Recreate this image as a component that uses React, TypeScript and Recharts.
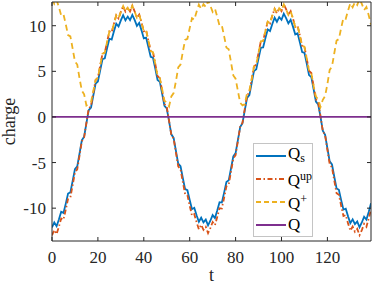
import { LineChart, Line, XAxis, YAxis, Legend } from "recharts";

// sampled charge signals, one value per unit of t (t = 0..139)
const qsValues = [
  -12.11, -11.57, -11.98, -11.24, -10.4, -10.52, -9.5, -8.4, -8.27, -7.02,
  -5.72, -5.41, -4.01, -2.57, -2.16, -0.68, 0.74, 1.03, 2.35, 3.66,
  3.88, 5.12, 6.33, 6.43, 7.53, 8.57, 8.49, 9.39, 10.22, 9.91,
  10.58, 11.16, 10.6, 11.0, 10.61, 11.19, 10.63, 9.98, 10.3, 9.49,
  8.61, 8.7, 7.67, 6.59, 6.49, 5.3, 4.06, 3.84, 2.54, 1.22,
  0.94, -0.45, -1.91, -2.3, -3.72, -5.11, -5.4, -6.69, -7.92, -8.03,
  -9.11, -10.11, -9.96, -10.78, -11.49, -11.05, -11.55, -11.25, -11.89, -11.38,
  -10.76, -11.08, -10.26, -9.35, -9.39, -8.3, -7.13, -6.95, -5.65, -4.31,
  -3.97, -2.54, -1.1, -0.68, 0.72, 2.09, 2.39, 3.72, 5.02, 5.22,
  6.43, 7.59, 7.63, 8.64, 9.59, 9.41, 10.19, 10.88, 10.43, 10.94,
  10.65, 11.32, 10.84, 10.26, 10.65, 9.9, 9.05, 9.18, 8.18, 7.11,
  7.03, 5.84, 4.59, 4.36, 3.04, 1.69, 1.37, 0.0, -1.51, -1.95,
  -3.43, -4.87, -5.21, -6.56, -7.84, -7.99, -9.12, -10.16, -10.06, -10.9,
  -11.64, -11.22, -11.74, -11.45, -12.09, -11.57, -10.94, -11.25, -10.41, -9.46,
];

const qUpValues = [
  -12.98, -12.4, -12.84, -12.04, -11.13, -11.26, -10.16, -8.97, -8.83, -7.48,
  -6.08, -5.74, -4.23, -2.68, -2.23, -0.63, 0.9, 1.21, 2.64, 4.05,
  4.29, 5.63, 6.94, 7.04, 8.23, 9.36, 9.27, 10.24, 11.14, 10.8,
  11.53, 12.15, 11.55, 11.98, 11.56, 12.19, 11.58, 10.88, 11.22, 10.35,
  9.4, 9.5, 8.38, 7.22, 7.11, 5.82, 4.48, 4.25, 2.84, 1.42,
  1.12, -0.39, -1.96, -2.38, -3.92, -5.42, -5.73, -7.13, -8.45, -8.57,
  -9.74, -10.82, -10.66, -11.54, -12.31, -11.83, -12.37, -12.05, -12.74, -12.19,
  -11.52, -11.87, -10.98, -10.0, -10.04, -8.86, -7.6, -7.41, -6.0, -4.55,
  -4.19, -2.64, -1.09, -0.63, 0.88, 2.36, 2.68, 4.12, 5.52, 5.74,
  7.04, 8.3, 8.34, 9.43, 10.46, 10.26, 11.11, 11.85, 11.36, 11.92,
  11.6, 12.33, 11.81, 11.18, 11.6, 10.79, 9.87, 10.01, 8.93, 7.78,
  7.69, 6.41, 5.06, 4.81, 3.38, 1.93, 1.58, 0.1, -1.53, -2.01,
  -3.6, -5.16, -5.53, -6.98, -8.37, -8.53, -9.75, -10.87, -10.76, -11.67,
  -12.47, -12.02, -12.58, -12.27, -12.96, -12.4, -11.72, -12.05, -11.14, -10.12,
];

const qPlusValues = [
  12.98, 12.4, 12.84, 12.04, 11.13, 11.26, 10.16, 8.97, 8.83, 7.48,
  6.08, 5.74, 4.23, 2.89, 2.48, 1.26, 1.42, 1.63, 2.86, 4.05,
  4.29, 5.63, 6.94, 7.04, 8.23, 9.36, 9.27, 10.24, 11.14, 10.8,
  11.53, 12.15, 11.55, 11.98, 11.56, 12.19, 11.58, 10.88, 11.22, 10.35,
  9.4, 9.5, 8.38, 7.22, 7.11, 5.82, 4.48, 4.25, 3.04, 1.79,
  1.57, 1.16, 2.25, 2.62, 3.92, 5.42, 5.73, 7.13, 8.45, 8.57,
  9.74, 10.82, 10.66, 11.54, 12.31, 11.83, 12.37, 12.05, 12.74, 12.19,
  11.52, 11.87, 10.98, 10.0, 10.04, 8.86, 7.6, 7.41, 6.0, 4.55,
  4.19, 2.86, 1.55, 1.26, 1.41, 2.6, 2.9, 4.12, 5.52, 5.74,
  7.04, 8.3, 8.34, 9.43, 10.46, 10.26, 11.11, 11.85, 11.36, 11.92,
  11.6, 12.33, 11.81, 11.18, 11.6, 10.79, 9.87, 10.01, 8.93, 7.78,
  7.69, 6.41, 5.06, 4.81, 3.38, 2.22, 1.92, 1.1, 1.88, 2.29,
  3.6, 5.16, 5.53, 6.98, 8.37, 8.53, 9.75, 10.87, 10.76, 11.67,
  12.47, 12.02, 12.58, 12.27, 12.96, 12.4, 11.72, 12.05, 11.14, 10.12,
];

// Q stays at zero over the whole run
const qT = [0, 139];
const qValues = [0, 0];

const xTicks = [0, 20, 40, 60, 80, 100, 120];
const yTicks = [-10, -5, 0, 5, 10];

const data = qsValues.map((v, i) => ({
  t: i,
  qs: v,
  qup: qUpValues[i],
  qplus: qPlusValues[i],
}));
const qData = qT.map((t, i) => ({ t, q: qValues[i] }));

const AXIS = "#262626";
const FONT = '"Liberation Serif", "Times New Roman", serif';
const tickStyle = { fontSize: 17, fill: AXIS, fontFamily: FONT };

const legendItems = [
  { color: "#0072BD", dash: undefined, main: "Q", sub: "s", sup: "" },
  { color: "#D95319", dash: "5 2.5 1.5 2.5", main: "Q", sub: "", sup: "up" },
  { color: "#EDB120", dash: "5 3", main: "Q", sub: "", sup: "+" },
  { color: "#7E2F8E", dash: undefined, main: "Q", sub: "", sup: "" },
];

const renderLegend = () => (
  <div
    style={{
      border: "1px solid #c4c4c4",
      background: "#fff",
      width: 58,
      fontFamily: FONT,
      fontSize: 17,
      color: "#000",
    }}
  >
    {legendItems.map((it, i) => (
      <div
        key={i}
        style={{ height: 23, display: "flex", alignItems: "center" }}
      >
        <svg width={32} height={6} style={{ marginLeft: 2 }}>
          <line
            x1={0}
            y1={3}
            x2={30}
            y2={3}
            stroke={it.color}
            strokeWidth={2}
            strokeDasharray={it.dash}
          />
        </svg>
        <span style={{ lineHeight: "17px" }}>
          {it.main}
          {it.sub && (
            <sub style={{ fontSize: 12, verticalAlign: "-3px" }}>{it.sub}</sub>
          )}
          {it.sup && (
            <sup style={{ fontSize: 12, verticalAlign: "6px" }}>{it.sup}</sup>
          )}
        </span>
      </div>
    ))}
  </div>
);

export default function App() {
  return (
    <div style={{ position: "absolute", left: 0, top: 0 }}>
      <LineChart
        width={374}
        height={285}
        data={data}
        margin={{ top: 0, right: 0, bottom: 0, left: 0 }}
        style={{ fontFamily: FONT, background: "#fff" }}
      >
        <XAxis
          dataKey="t"
          type="number"
          domain={[0, 139]}
          ticks={xTicks}
          allowDataOverflow
          height={44}
          stroke={AXIS}
          tickSize={-4}
          tickMargin={14}
          tick={tickStyle}
          label={{
            value: "t",
            position: "insideBottom",
            offset: 4,
            fontSize: 18,
            fontFamily: FONT,
            fill: AXIS,
          }}
        />
        <XAxis
          xAxisId="top"
          orientation="top"
          type="number"
          domain={[0, 139]}
          ticks={xTicks}
          allowDataOverflow
          height={2}
          stroke={AXIS}
          tickSize={-4}
          tickFormatter={() => ""}
        />
        <YAxis
          type="number"
          domain={[-13.6, 12.6]}
          ticks={yTicks}
          allowDataOverflow
          width={52}
          stroke={AXIS}
          tickSize={-4}
          tickMargin={10}
          tick={tickStyle}
          label={{
            value: "charge",
            angle: -90,
            position: "insideLeft",
            offset: 9,
            fontSize: 18,
            fontFamily: FONT,
            fill: AXIS,
            style: { textAnchor: "middle" },
          }}
        />
        <YAxis
          yAxisId="right"
          orientation="right"
          type="number"
          domain={[-13.6, 12.6]}
          ticks={yTicks}
          allowDataOverflow
          width={3}
          stroke={AXIS}
          tickSize={-4}
          tickFormatter={() => ""}
        />
        <Legend
          content={renderLegend}
          layout="vertical"
          align="center"
          verticalAlign="middle"
          wrapperStyle={{ left: 253, top: 143, width: "auto" }}
        />
        <Line
          dataKey="qs"
          name="Qs"
          stroke="#0072BD"
          strokeWidth={1.8}
          dot={false}
          isAnimationActive={false}
        />
        <Line
          dataKey="qup"
          name="Qup"
          stroke="#D95319"
          strokeWidth={1.8}
          strokeDasharray="5 2.5 1.5 2.5"
          dot={false}
          isAnimationActive={false}
        />
        <Line
          dataKey="qplus"
          name="Q+"
          stroke="#EDB120"
          strokeWidth={1.8}
          strokeDasharray="6 4"
          dot={false}
          isAnimationActive={false}
        />
        <Line
          data={qData}
          dataKey="q"
          name="Q"
          stroke="#7E2F8E"
          strokeWidth={1.8}
          dot={false}
          isAnimationActive={false}
        />
      </LineChart>
    </div>
  );
}
